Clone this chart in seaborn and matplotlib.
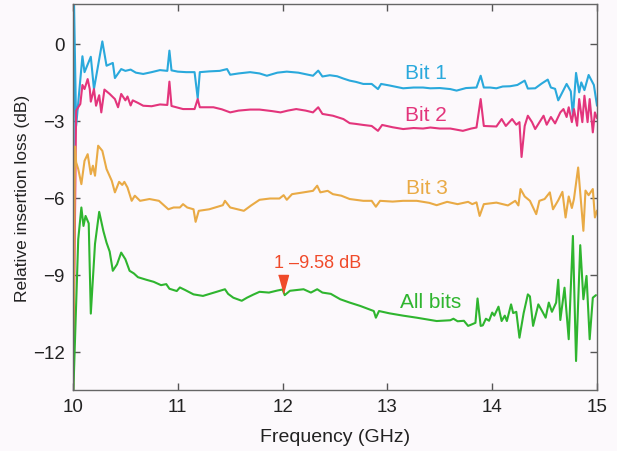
import matplotlib
matplotlib.use("Agg")
import matplotlib.pyplot as plt
import seaborn as sns
import pandas as pd
from matplotlib.transforms import offset_copy

# Relative insertion loss (dB) vs frequency (GHz)
bit1_freq = [10.00, 10.01, 10.03, 10.09, 10.11, 10.17, 10.20, 10.28, 10.32, 10.38, 10.40, 10.46,
             10.50, 10.55, 10.60, 10.67, 10.75, 10.83, 10.90, 10.92, 10.94, 11.00, 11.08, 11.16,
             11.19, 11.21, 11.30, 11.40, 11.47, 11.50, 11.58, 11.69, 11.78, 11.85, 11.95, 12.04,
             12.15, 12.29, 12.34, 12.38, 12.45, 12.52, 12.58, 12.64, 12.70, 12.77, 12.85, 12.91,
             12.94, 13.02, 13.15, 13.25, 13.34, 13.41, 13.50, 13.60, 13.66, 13.75, 13.85, 13.89,
             13.92, 13.98, 14.04, 14.10, 14.17, 14.24, 14.31, 14.34, 14.41, 14.47, 14.53, 14.56,
             14.60, 14.63, 14.71, 14.75, 14.77, 14.80, 14.83, 14.85, 14.88, 14.92, 14.97, 15.00]
bit1_loss = [-14.0, 1.6, -3.2, -0.48, -1.1, -0.5, -1.76, 0.1, -0.85, -0.74, -1.33, -0.98,
             -1.05, -1.0, -1.12, -1.17, -1.1, -1.02, -1.05, -0.26, -1.03, -1.08, -1.1, -1.1,
             -2.12, -1.1, -1.07, -1.05, -0.98, -1.2, -1.15, -1.1, -1.15, -1.24, -1.12, -1.08,
             -1.12, -1.24, -1.04, -1.27, -1.22, -1.26, -1.35, -1.43, -1.48, -1.56, -1.56, -1.76,
             -1.56, -1.62, -1.73, -1.7, -1.7, -1.73, -1.72, -1.76, -1.82, -1.72, -1.7, -1.24,
             -1.7, -1.7, -1.73, -1.66, -1.65, -1.6, -1.43, -1.74, -1.73, -1.55, -1.39, -1.7,
             -1.75, -2.2, -1.56, -1.85, -2.8, -1.13, -1.89, -1.5, -1.8, -1.21, -1.6, -2.41]

bit2_freq = [10.00, 10.03, 10.07, 10.09, 10.11, 10.14, 10.16, 10.17, 10.20, 10.22, 10.25, 10.27,
             10.30, 10.35, 10.40, 10.43, 10.46, 10.50, 10.52, 10.55, 10.57, 10.62, 10.67, 10.75,
             10.83, 10.90, 10.92, 10.94, 11.05, 11.16, 11.19, 11.21, 11.34, 11.42, 11.50, 11.58,
             11.69, 11.78, 11.90, 11.98, 12.05, 12.13, 12.22, 12.29, 12.34, 12.38, 12.48, 12.58,
             12.64, 12.70, 12.77, 12.85, 12.91, 12.95, 13.05, 13.15, 13.25, 13.34, 13.41, 13.50,
             13.60, 13.72, 13.80, 13.85, 13.89, 13.92, 14.04, 14.09, 14.13, 14.19, 14.23, 14.26,
             14.28, 14.31, 14.34, 14.38, 14.41, 14.49, 14.52, 14.56, 14.60, 14.65, 14.68, 14.71,
             14.73, 14.76, 14.78, 14.81, 14.83, 14.86, 14.88, 14.91, 14.93, 14.96, 14.98, 15.00]
bit2_loss = [-14.0, -2.6, -2.34, -1.6, -1.76, -1.37, -1.76, -2.25, -1.76, -2.41, -2.0, -2.67,
             -1.78, -1.95, -2.15, -2.47, -1.95, -2.2, -2.05, -2.4, -2.2, -2.3, -2.41, -2.43,
             -2.36, -2.38, -1.47, -2.42, -2.54, -2.54, -2.15, -2.47, -2.47, -2.55, -2.67, -2.6,
             -2.56, -2.56, -2.62, -2.67, -2.6, -2.54, -2.6, -2.67, -2.47, -2.73, -2.8, -2.93,
             -3.09, -3.12, -3.16, -3.2, -3.39, -3.16, -3.25, -3.32, -3.28, -3.3, -3.26, -3.3,
             -3.3, -3.39, -3.3, -3.26, -2.15, -3.2, -3.22, -2.93, -3.2, -2.93, -3.15, -3.05,
             -4.41, -3.2, -2.8, -3.05, -3.32, -2.8, -3.15, -2.85, -3.1, -2.67, -2.54, -2.85,
             -2.47, -3.05, -2.54, -3.19, -2.15, -3.05, -2.02, -3.05, -2.15, -3.45, -2.67, -2.9]

bit3_freq = [10.00, 10.02, 10.03, 10.05, 10.08, 10.11, 10.14, 10.17, 10.19, 10.21, 10.24, 10.28,
             10.32, 10.37, 10.40, 10.44, 10.47, 10.49, 10.52, 10.56, 10.59, 10.64, 10.73, 10.82,
             10.91, 10.96, 11.02, 11.05, 11.09, 11.15, 11.17, 11.20, 11.30, 11.43, 11.45, 11.50,
             11.57, 11.63, 11.70, 11.78, 11.88, 11.97, 12.01, 12.04, 12.09, 12.20, 12.29, 12.33,
             12.36, 12.43, 12.48, 12.56, 12.64, 12.77, 12.85, 12.89, 12.93, 13.05, 13.15, 13.28,
             13.40, 13.47, 13.57, 13.67, 13.77, 13.81, 13.85, 13.88, 13.92, 14.04, 14.15, 14.22,
             14.25, 14.27, 14.31, 14.36, 14.42, 14.45, 14.50, 14.55, 14.58, 14.63, 14.67, 14.70,
             14.73, 14.76, 14.78, 14.82, 14.87, 14.89, 14.92, 14.96, 14.98, 15.00]
bit3_loss = [-14.0, -4.0, -4.62, -4.88, -5.47, -4.56, -4.3, -5.08, -4.75, -5.14, -3.97, -4.17,
             -4.88, -5.34, -5.79, -5.38, -5.5, -5.38, -5.6, -6.12, -5.92, -6.12, -6.05, -6.12,
             -6.45, -6.38, -6.38, -6.25, -6.38, -6.45, -6.94, -6.51, -6.45, -6.29, -6.12, -6.38,
             -6.45, -6.51, -6.3, -6.08, -6.03, -6.03, -5.9, -6.08, -5.86, -5.79, -5.73, -5.53,
             -5.79, -5.73, -5.86, -5.92, -6.05, -6.12, -6.12, -6.35, -6.12, -6.15, -6.12, -6.12,
             -6.2, -6.29, -6.16, -6.25, -6.16, -6.25, -6.18, -6.71, -6.25, -6.19, -6.3, -6.12,
             -6.3, -5.66, -5.95, -6.12, -6.64, -6.12, -6.05, -5.79, -6.45, -6.1, -5.77, -6.77,
             -5.95, -6.4, -6.05, -4.82, -7.29, -5.72, -5.9, -5.66, -6.77, -6.5]

all_freq = [10.00, 10.05, 10.08, 10.10, 10.12, 10.15, 10.17, 10.21, 10.25, 10.29, 10.32, 10.35,
            10.38, 10.42, 10.46, 10.50, 10.54, 10.58, 10.62, 10.70, 10.77, 10.84, 10.89, 10.92,
            10.99, 11.02, 11.07, 11.15, 11.24, 11.37, 11.45, 11.48, 11.53, 11.61, 11.66, 11.72,
            11.78, 11.87, 11.95, 12.00, 12.02, 12.07, 12.20, 12.27, 12.33, 12.38, 12.46, 12.55,
            12.64, 12.74, 12.87, 12.89, 12.92, 13.02, 13.15, 13.28, 13.47, 13.60, 13.63, 13.67,
            13.73, 13.77, 13.80, 13.84, 13.86, 13.89, 13.91, 13.94, 13.97, 14.00, 14.02, 14.06,
            14.09, 14.12, 14.14, 14.18, 14.20, 14.23, 14.26, 14.30, 14.34, 14.36, 14.39, 14.44,
            14.48, 14.51, 14.54, 14.57, 14.61, 14.63, 14.65, 14.69, 14.73, 14.77, 14.80, 14.84,
            14.87, 14.90, 14.93, 14.96, 14.99]
all_loss = [-14.0, -7.62, -6.38, -7.1, -6.71, -7.0, -10.52, -7.8, -6.55, -7.3, -7.75, -8.1,
            -8.85, -8.6, -8.14, -8.4, -8.85, -8.95, -9.1, -9.2, -9.28, -9.41, -9.37, -9.55,
            -9.64, -9.5, -9.6, -9.77, -9.83, -9.67, -9.57, -9.75, -9.9, -10.02, -9.9, -9.78,
            -9.67, -9.7, -9.62, -9.58, -9.8, -9.63, -9.57, -9.7, -9.57, -9.7, -9.75, -9.96,
            -10.09, -10.22, -10.42, -10.68, -10.42, -10.51, -10.6, -10.68, -10.81, -10.78, -10.72, -10.82,
            -10.8, -11.0, -10.95, -10.88, -9.93, -11.0, -10.98, -10.72, -10.8, -10.48, -10.6, -10.25,
            -10.81, -10.6, -10.81, -10.16, -10.5, -10.45, -11.46, -10.5, -9.77, -9.85, -11.0, -10.16,
            -10.45, -10.68, -10.09, -10.45, -10.09, -9.2, -10.77, -9.51, -11.52, -7.49, -12.37, -7.85,
            -9.96, -9.05, -11.52, -9.9, -9.8]

series_names = ["Bit 1", "Bit 2", "Bit 3", "All bits"]
series_colors = ["#2aa9dc", "#e3357c", "#e9aa45", "#2fb52f"]
label_pos = [(13.37, -1.13), (13.37, -2.77), (13.38, -5.59), (13.41, -10.04)]

marker_freq = 12.0
marker_loss = -9.58
marker_text = "1 \u20139.58 dB"

df = pd.concat([
    pd.DataFrame({"freq": f, "loss": l, "series": n})
    for f, l, n in zip([bit1_freq, bit2_freq, bit3_freq, all_freq],
                       [bit1_loss, bit2_loss, bit3_loss, all_loss], series_names)
], ignore_index=True)

sns.set_theme(style="ticks")
plt.rcParams["font.family"] = ["Liberation Sans", "DejaVu Sans"]
bg = "#fcf9fc"

fig = plt.figure(figsize=(6.17, 4.52), dpi=100, facecolor=bg)
ax = fig.add_axes([0.1183, 0.135, 0.8493, 0.854])
ax.set_facecolor(bg)

sns.lineplot(data=df, x="freq", y="loss", hue="series", palette=dict(zip(series_names, series_colors)),
             estimator=None, sort=False, legend=False, linewidth=1.5, ax=ax)

for name, color, (tx, ty) in zip(series_names, series_colors, label_pos):
    ax.text(tx, ty, name, color=color, fontsize=15, ha="center", va="center")

# marker: tip of the triangle sits on the data point
tri = [(-0.55, 1.0), (0.55, 1.0), (0.0, -1.0)]
trans = offset_copy(ax.transData, fig=fig, x=0, y=4, units="points")
ax.plot([marker_freq], [marker_loss], marker=tri, markersize=13, color="#f04a2a",
        linestyle="none", transform=trans)
ax.annotate(marker_text, (marker_freq, marker_loss), xytext=(-6, 13), textcoords="offset points",
            color="#f04a2a", fontsize=13, ha="left", va="bottom")

ax.set_xlim(10, 15)
ax.set_ylim(-13.5, 1.56)
ax.set_xticks([10, 11, 12, 13, 14, 15])
ax.set_yticks([0, -3, -6, -9, -12])
ax.tick_params(direction="in", length=5, width=1, top=True, right=True,
               labelsize=13.5, colors="#555555", labelcolor="#222222", pad=6)
for s in ax.spines.values():
    s.set_color("#666666")
    s.set_linewidth(1)

ax.set_xlabel("Frequency (GHz)", fontsize=14, color="#222222", labelpad=9)
ax.set_ylabel("Relative insertion loss (dB)", fontsize=12.5, color="#222222", labelpad=2)

fig.savefig("out.png", dpi=100, facecolor=bg)
